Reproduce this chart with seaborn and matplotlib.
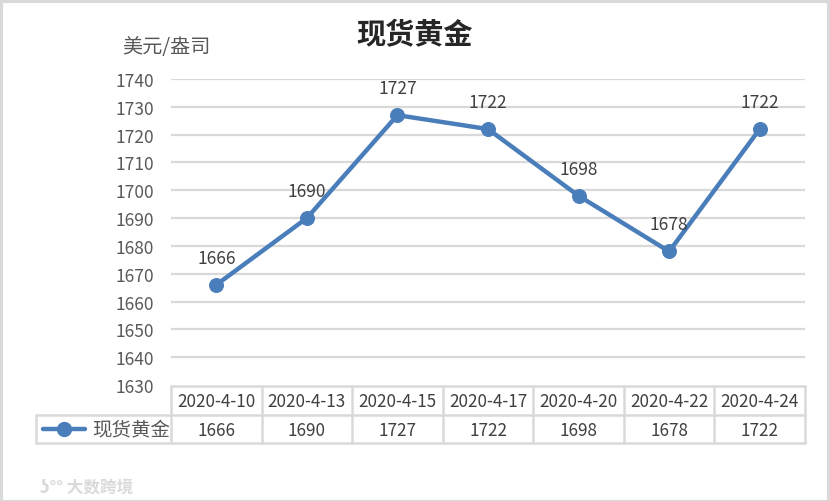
import numpy as np
import pandas as pd
import matplotlib
matplotlib.use('Agg')
import matplotlib.pyplot as plt
import seaborn as sns
from matplotlib.patches import Rectangle

# chart data
dates = ['2020-4-10', '2020-4-13', '2020-4-15', '2020-4-17', '2020-4-20', '2020-4-22', '2020-4-24']
prices = [1666, 1690, 1727, 1722, 1698, 1678, 1722]
series_name = '现货黄金'
y_ticks = list(range(1630, 1741, 10))

sns.set_theme(style='white')
plt.rcParams['font.family'] = ['Noto Sans CJK SC', 'DejaVu Sans']

W, H = 830, 502
blue = '#4a7ebb'
grid = '#d9d9d9'
txt = '#595959'

fig = plt.figure(figsize=(W / 100, H / 100), dpi=100)

def fx(x):
    return x / W

def fy(y):
    return 1 - y / H

# main plot area (pixel box 171..805 x 80..386)
ax = fig.add_axes([fx(171), fy(386), (805 - 171) / W, (386 - 80) / H])
df = pd.DataFrame({'pos': np.arange(len(dates)), 'price': prices})
sns.lineplot(data=df, x='pos', y='price', ax=ax, color=blue, linewidth=3.2,
             marker='o', markersize=10, markeredgecolor=blue, markerfacecolor=blue)
ax.set_xlim(-0.5, len(dates) - 0.5)
ax.set_ylim(1630, 1740)
ax.set_yticks(y_ticks)
ax.set_yticklabels([str(v) for v in y_ticks], fontsize=12.5, color=txt)
ax.set_xticks([])
ax.set_xlabel('')
ax.set_ylabel('')
ax.tick_params(axis='y', length=0, pad=12)
for s in ax.spines.values():
    s.set_visible(False)
for v in y_ticks[1:]:
    ax.axhline(v, color=grid, linewidth=1.6, zorder=0)
for i, p in enumerate(prices):
    ax.annotate(str(p), (i, p), xytext=(0, 19.5), textcoords='offset points',
                ha='center', va='center', fontsize=12.5, color='#404040')

# title and unit label
fig.text(fx(415), fy(35), series_name, ha='center', va='center', fontsize=21,
         fontweight='bold', color='#262626')
fig.text(fx(122), fy(47), '美元/盎司', ha='left', va='center', fontsize=14.5, color=txt)

# data table
tab = fig.add_axes([fx(36), fy(444), (805 - 36) / W, (444 - 387) / H])
tab.set_xlim(36, 805)
tab.set_ylim(444, 387)
tab.axis('off')
col_w = (805 - 171) / len(dates)
xs = [171 + i * col_w for i in range(len(dates) + 1)]
lw = 1.8
tab.plot([171, 805], [387, 387], color=grid, lw=lw, clip_on=False)
tab.plot([36, 805], [416, 416], color=grid, lw=lw, clip_on=False)
tab.plot([36, 805], [444, 444], color=grid, lw=lw, clip_on=False)
tab.plot([36, 36], [416, 444], color=grid, lw=lw, clip_on=False)
for x in xs:
    tab.plot([x, x], [387, 444], color=grid, lw=lw, clip_on=False)
for i, (d, p) in enumerate(zip(dates, prices)):
    cx = 171 + (i + 0.5) * col_w
    tab.text(cx, 402, d, ha='center', va='center', fontsize=12.3, color='#404040')
    tab.text(cx, 431, str(p), ha='center', va='center', fontsize=12.3, color='#404040')
tab.plot([43, 85], [430, 430], color=blue, lw=3.2, solid_capstyle='round', clip_on=False)
tab.plot([64], [430], 'o', color=blue, markersize=10, clip_on=False)
tab.text(92, 430, series_name, ha='left', va='center', fontsize=14, color=txt)

# watermark
fig.text(fx(40), fy(487), 'ʖ°° 大数跨境', ha='left', va='center', fontsize=12,
         color='#dadada', fontweight='bold')

# outer border
fig.patches.append(Rectangle((0.5 / W, 0.5 / H), 1 - 2.5 / W, 1 - 2.5 / H,
                             transform=fig.transFigure, fill=False,
                             edgecolor=grid, linewidth=2.2))

fig.savefig('out.png', dpi=100)
